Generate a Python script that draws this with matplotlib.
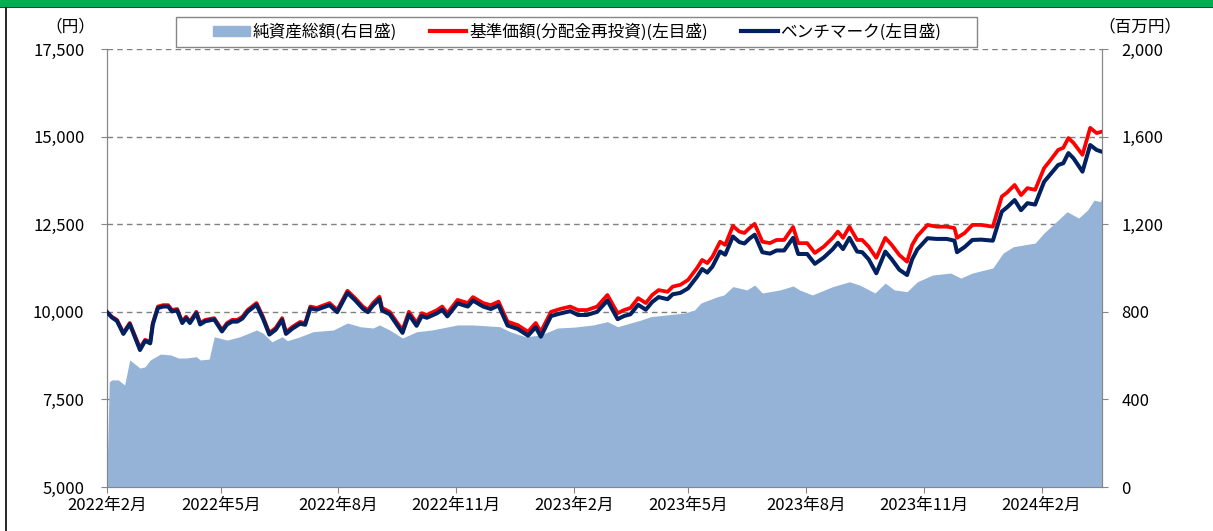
import matplotlib
matplotlib.use('Agg')
import matplotlib.pyplot as plt
import matplotlib.dates as mdates
from matplotlib.ticker import FuncFormatter, FixedLocator
from matplotlib.patches import Rectangle
from matplotlib.lines import Line2D
import pandas as pd

plt.rcParams['font.family'] = ['Noto Sans CJK JP', 'DejaVu Sans']

# 基準価額 / ベンチマーク
price_dates = ['2022-02-01', '2022-02-05', '2022-02-09', '2022-02-14', '2022-02-19', '2022-02-27',
               '2022-03-03', '2022-03-07', '2022-03-09', '2022-03-13', '2022-03-17', '2022-03-21',
               '2022-03-24', '2022-03-28', '2022-04-01', '2022-04-04', '2022-04-07', '2022-04-12',
               '2022-04-15', '2022-04-19', '2022-04-26', '2022-05-02', '2022-05-06', '2022-05-10',
               '2022-05-14', '2022-05-18', '2022-05-22', '2022-05-29', '2022-06-03', '2022-06-08',
               '2022-06-13', '2022-06-18', '2022-06-21', '2022-06-26', '2022-07-02', '2022-07-06',
               '2022-07-10', '2022-07-15', '2022-07-25', '2022-07-31', '2022-08-08', '2022-08-14',
               '2022-08-20', '2022-08-24', '2022-08-28', '2022-09-02', '2022-09-04', '2022-09-10',
               '2022-09-16', '2022-09-20', '2022-09-25', '2022-10-01', '2022-10-05', '2022-10-09',
               '2022-10-17', '2022-10-21', '2022-10-25', '2022-11-02', '2022-11-10', '2022-11-14',
               '2022-11-22', '2022-11-28', '2022-12-04', '2022-12-11', '2022-12-19', '2022-12-27',
               '2023-01-02', '2023-01-06', '2023-01-14', '2023-01-21', '2023-01-29', '2023-02-04',
               '2023-02-11', '2023-02-19', '2023-02-27', '2023-03-07', '2023-03-12', '2023-03-17',
               '2023-03-23', '2023-03-29', '2023-04-03', '2023-04-08', '2023-04-15', '2023-04-19',
               '2023-04-25', '2023-05-01', '2023-05-08', '2023-05-12', '2023-05-16', '2023-05-20',
               '2023-05-26', '2023-05-30', '2023-06-05', '2023-06-10', '2023-06-14', '2023-06-18',
               '2023-06-22', '2023-06-28', '2023-07-04', '2023-07-09', '2023-07-15', '2023-07-22',
               '2023-07-26', '2023-08-02', '2023-08-08', '2023-08-15', '2023-08-22', '2023-08-26',
               '2023-08-30', '2023-09-04', '2023-09-10', '2023-09-14', '2023-09-19', '2023-09-25',
               '2023-10-02', '2023-10-07', '2023-10-13', '2023-10-19', '2023-10-23', '2023-10-27',
               '2023-11-04', '2023-11-11', '2023-11-19', '2023-11-25', '2023-11-27', '2023-12-03',
               '2023-12-09', '2023-12-16', '2023-12-25', '2024-01-01', '2024-01-05', '2024-01-11',
               '2024-01-16', '2024-01-21', '2024-01-27', '2024-02-03', '2024-02-08', '2024-02-14',
               '2024-02-18', '2024-02-22', '2024-02-26', '2024-03-04', '2024-03-10', '2024-03-15',
               '2024-03-19']

fund_price = [10000, 9860, 9770, 9400, 9680, 8970,
              9200, 9140, 9680, 10150, 10190, 10190,
              10050, 10080, 9720, 9860, 9720, 10000,
              9680, 9770, 9820, 9480, 9680, 9770,
              9770, 9860, 10050, 10250, 9860, 9400,
              9540, 9820, 9420, 9570, 9710, 9680,
              10150, 10110, 10250, 10050, 10600, 10390,
              10150, 10050, 10250, 10430, 10110, 10000,
              9680, 9480, 10000, 9680, 9960, 9910,
              10050, 10150, 9960, 10340, 10250, 10420,
              10250, 10190, 10290, 9720, 9620, 9430,
              9680, 9430, 10000, 10080, 10150, 10050,
              10050, 10150, 10480, 9960, 10050, 10110,
              10390, 10250, 10480, 10620, 10570, 10720,
              10770, 10910, 11250, 11480, 11390, 11570,
              12000, 11910, 12450, 12290, 12250, 12390,
              12510, 12000, 11960, 12050, 12050, 12420,
              11960, 11960, 11680, 11860, 12110, 12290,
              12110, 12430, 12050, 12050, 11860, 11540,
              12110, 11910, 11620, 11430, 11910, 12160,
              12480, 12430, 12430, 12390, 12110, 12250,
              12480, 12480, 12430, 13290, 13400, 13620,
              13330, 13530, 13480, 14100, 14330, 14620,
              14680, 14960, 14820, 14480, 15250, 15100,
              15140]

benchmark = [10000, 9840, 9740, 9370, 9650, 8910,
             9170, 9100, 9640, 10110, 10150, 10150,
             10010, 10040, 9680, 9820, 9680, 9960,
             9640, 9730, 9780, 9440, 9640, 9720,
             9720, 9810, 10000, 10200, 9810, 9350,
             9490, 9770, 9370, 9520, 9660, 9630,
             10100, 10060, 10190, 9990, 10540, 10330,
             10090, 9990, 10180, 10360, 10040, 9930,
             9610, 9400, 9920, 9600, 9880, 9830,
             9960, 10060, 9870, 10240, 10150, 10320,
             10150, 10080, 10180, 9610, 9510, 9320,
             9560, 9290, 9880, 9950, 10020, 9910,
             9910, 10000, 10320, 9790, 9880, 9930,
             10200, 10060, 10280, 10420, 10360, 10500,
             10540, 10670, 11000, 11220, 11120, 11290,
             11720, 11630, 12150, 11990, 11950, 12090,
             12200, 11700, 11660, 11750, 11750, 12110,
             11650, 11650, 11370, 11550, 11790, 11970,
             11790, 12110, 11720, 11700, 11500, 11100,
             11720, 11500, 11200, 11050, 11500, 11780,
             12100, 12080, 12080, 12030, 11700, 11850,
             12050, 12060, 12030, 12860, 12980, 13190,
             12900, 13100, 13060, 13710, 13930, 14190,
             14240, 14530, 14380, 14000, 14760, 14620,
             14570]

# 純資産総額(百万円)
nav_dates = ['2022-02-01', '2022-02-03', '2022-02-05', '2022-02-10', '2022-02-15', '2022-02-19',
             '2022-02-27', '2022-03-03', '2022-03-07', '2022-03-15', '2022-03-23', '2022-03-29',
             '2022-04-04', '2022-04-12', '2022-04-15', '2022-04-22', '2022-04-26', '2022-05-06',
             '2022-05-16', '2022-05-29', '2022-06-03', '2022-06-10', '2022-06-18', '2022-06-22',
             '2022-07-02', '2022-07-12', '2022-07-28', '2022-08-08', '2022-08-18', '2022-08-28',
             '2022-09-02', '2022-09-10', '2022-09-20', '2022-10-01', '2022-10-13', '2022-11-02',
             '2022-11-14', '2022-12-05', '2022-12-13', '2022-12-25', '2023-01-06', '2023-01-19',
             '2023-02-01', '2023-02-16', '2023-02-27', '2023-03-07', '2023-03-25', '2023-04-02',
             '2023-04-28', '2023-05-06', '2023-05-11', '2023-05-24', '2023-05-29', '2023-06-05',
             '2023-06-16', '2023-06-22', '2023-06-28', '2023-07-12', '2023-07-22', '2023-07-27',
             '2023-08-06', '2023-08-22', '2023-09-04', '2023-09-12', '2023-09-24', '2023-10-02',
             '2023-10-09', '2023-10-19', '2023-10-27', '2023-11-08', '2023-11-22', '2023-11-30',
             '2023-12-09', '2023-12-25', '2024-01-02', '2024-01-10', '2024-01-18', '2024-01-27',
             '2024-02-03', '2024-02-14', '2024-02-21', '2024-03-01', '2024-03-08', '2024-03-13',
             '2024-03-18', '2024-03-19']

net_assets = [0, 480, 489, 489, 466, 580,
              543, 549, 580, 607, 603, 589,
              589, 595, 580, 584, 686, 671,
              686, 717, 703, 663, 686, 668,
              686, 709, 717, 749, 732, 726,
              740, 717, 680, 709, 717, 740,
              740, 732, 709, 686, 694, 726,
              730, 740, 755, 732, 762, 778,
              794, 808, 840, 869, 877, 915,
              900, 922, 886, 900, 918, 900,
              877, 915, 937, 922, 886, 931,
              900, 892, 937, 968, 977, 954,
              977, 1000, 1068, 1097, 1105, 1114,
              1160, 1219, 1257, 1228, 1265, 1310,
              1303, 1320]

left_ticks = [5000, 7500, 10000, 12500, 15000, 17500]
right_ticks = [0, 400, 800, 1200, 1600, 2000]
legend_labels = ['純資産総額(右目盛)', '基準価額(分配金再投資)(左目盛)', 'ベンチマーク(左目盛)']

px = pd.to_datetime(price_dates)
nx = pd.to_datetime(nav_dates)

fig = plt.figure(figsize=(12.13, 5.31), dpi=100)
rect = [106.7 / 1213, 44 / 531, 995 / 1213, 438 / 531]

ax = fig.add_axes(rect)
ax2 = ax.twinx()
ax3 = fig.add_axes(rect, sharex=ax, sharey=ax)
ax3.axis('off')

grey = '#868686'
ax.set_ylim(5000, 17500)
ax.yaxis.set_major_locator(FixedLocator(left_ticks))
ax.yaxis.set_major_formatter(FuncFormatter(lambda v, p: '{:,.0f}'.format(v)))
ax.grid(axis='y', color='#808080', linestyle=(0, (4, 3)), linewidth=1)
ax.grid(axis='x', visible=False)

ax2.fill_between(nx, net_assets, 0, color='#95B3D7', linewidth=0)
ax2.set_ylim(0, 2000)
ax2.yaxis.set_major_locator(FixedLocator(right_ticks))
ax2.yaxis.set_major_formatter(FuncFormatter(lambda v, p: '{:,.0f}'.format(v)))

ax3.plot(px, fund_price, color='#FF0000', linewidth=2.7, solid_joinstyle='round')
ax3.plot(px, benchmark, color='#002060', linewidth=2.9, solid_joinstyle='round')

ax.set_xlim(pd.Timestamp('2022-02-01'), pd.Timestamp('2024-03-19'))
ax.xaxis.set_major_locator(mdates.MonthLocator(bymonth=[2, 5, 8, 11]))
ax.xaxis.set_major_formatter(FuncFormatter(
    lambda v, p: '{}年{}月'.format(mdates.num2date(v).year, mdates.num2date(v).month)))

for a in (ax, ax2):
    a.spines['top'].set_visible(False)
    for s in ('left', 'right', 'bottom'):
        a.spines[s].set_color(grey)
    a.tick_params(colors='black', labelsize=12, color=grey, length=4)
ax.tick_params(axis='y', pad=12)
ax.tick_params(axis='x', pad=3)
ax2.tick_params(axis='y', pad=10)

fig.text(70 / 1213, 1 - 27 / 531, '（円）', ha='center', va='center', fontsize=12)
fig.text(1140 / 1213, 1 - 27 / 531, '（百万円）', ha='center', va='center', fontsize=12)

# 凡例の枠
fig.patches.append(Rectangle((176 / 1213, 1 - 47 / 531), 801 / 1213, 30 / 531,
                             transform=fig.transFigure, facecolor='white', edgecolor=grey,
                             linewidth=1, zorder=3))
handles = [Rectangle((0, 0), 1, 1, color='#95B3D7'),
           Line2D([], [], color='#FF0000', linewidth=3),
           Line2D([], [], color='#002060', linewidth=3)]
leg = fig.legend(handles, legend_labels, loc='center', bbox_to_anchor=(577 / 1213, 1 - 32 / 531),
                 ncol=3, fontsize=12, frameon=False, handlelength=2.2, handleheight=0.6,
                 columnspacing=2.0, handletextpad=0.15, borderpad=0.2, borderaxespad=0)
leg.set_zorder(4)

# 上部の緑帯と枠線
fig.patches.append(Rectangle((0, 1 - 6 / 531), 1, 6 / 531, transform=fig.transFigure,
                             color='#00B050', zorder=5))
fig.lines.append(Line2D([0, 1], [1 - 6.5 / 531, 1 - 6.5 / 531], transform=fig.transFigure,
                        color='black', linewidth=1.2))
fig.lines.append(Line2D([5.5 / 1213, 5.5 / 1213], [0, 1 - 6 / 531], transform=fig.transFigure,
                        color='black', linewidth=1.2))

fig.savefig('out.png', dpi=100)
